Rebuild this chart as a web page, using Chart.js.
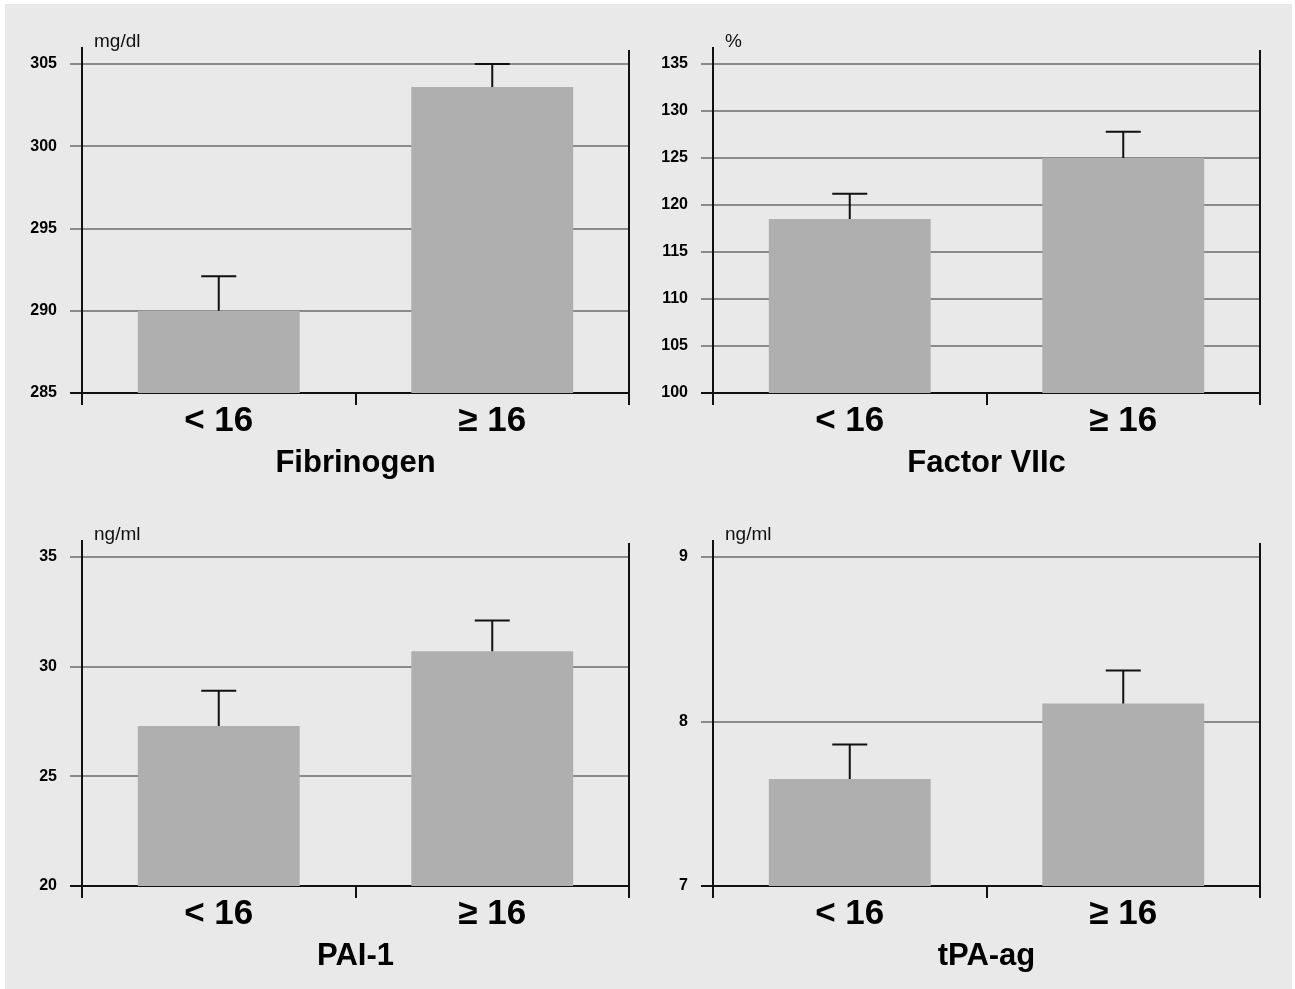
<!DOCTYPE html>
<html lang="en">
<head>
<meta charset="utf-8">
<title>Haemostatic factors by group</title>
<script src="https://cdn.jsdelivr.net/npm/chart.js"></script>
<style>
    html, body { margin: 0; padding: 0; background: #fff; }
    body { width: 1295px; height: 989px; position: relative; overflow: hidden; font-family: "Liberation Sans", Arial, sans-serif; }
    .backdrop { position: absolute; left: 5px; top: 4px; width: 1287px; height: 985px; background: #e9e9e9; }
    canvas { position: absolute; }
</style>
</head>
<body>
<div class="backdrop"></div>
<canvas id="fibChart" width="631" height="470" style="left:10px;top:20px"></canvas>
<canvas id="f7Chart" width="631" height="470" style="left:641px;top:20px"></canvas>
<canvas id="paiChart" width="631" height="470" style="left:10px;top:513px"></canvas>
<canvas id="tpaChart" width="631" height="470" style="left:641px;top:513px"></canvas>

<script>
    // groups on the x axis
    const categories = ['< 16', '\u2265 16'];

    // bar heights (means) and top of the error whisker
    const fibrinogen = [290.0, 303.6];
    const fibrinogenErr = [292.1, 305.0];
    const factor7 = [118.5, 125.0];
    const factor7Err = [121.2, 127.8];
    const pai1 = [27.3, 30.7];
    const pai1Err = [28.9, 32.1];
    const tpa = [7.65, 8.11];
    const tpaErr = [7.86, 8.31];

    // y axis ranges: [min, max, step]
    const fibrinogenAxis = [285, 305, 5];
    const factor7Axis = [100, 135, 5];
    const pai1Axis = [20, 35, 5];
    const tpaAxis = [7, 9, 1];

    const FONT = '"Liberation Sans", Arial, sans-serif';
    const INK = '#000';

    // whisker above each bar (only the upper half is shown in the original)
    const errorBars = {
        id: 'errorBars',
        afterDatasetsDraw(chart, args, opts) {
            const { ctx } = chart;
            const y = chart.scales.y;
            const meta = chart.getDatasetMeta(0);
            ctx.save();
            ctx.strokeStyle = '#111';
            ctx.lineWidth = 2;
            opts.tops.forEach((v, i) => {
                const bar = meta.data[i];
                const yTop = y.getPixelForValue(v);
                ctx.beginPath();
                ctx.moveTo(bar.x, bar.y);
                ctx.lineTo(bar.x, yTop);
                ctx.moveTo(bar.x - 17.5, yTop);
                ctx.lineTo(bar.x + 17.5, yTop);
                ctx.stroke();
            });
            ctx.restore();
        }
    };

    // frame bits: axis line running past the top, right-hand line, unit label
    const frame = {
        id: 'frame',
        afterDraw(chart, args, opts) {
            const { ctx, chartArea: a } = chart;
            ctx.save();
            ctx.strokeStyle = '#111';
            ctx.lineWidth = 2;
            ctx.beginPath();
            ctx.moveTo(a.left, a.top - 17);
            ctx.lineTo(a.left, a.top);
            ctx.moveTo(a.right, a.top - 14);
            ctx.lineTo(a.right, a.bottom);
            ctx.stroke();
            ctx.fillStyle = '#111';
            ctx.font = '19px ' + FONT;
            ctx.textAlign = 'left';
            ctx.textBaseline = 'alphabetic';
            ctx.fillText(opts.unit, a.left + 12, a.top - 17);
            ctx.restore();
        }
    };

    function makeChart(id, title, unit, values, errTops, axis) {
        const [min, max, step] = axis;
        return new Chart(document.getElementById(id), {
            type: 'bar',
            data: {
                labels: categories,
                datasets: [{
                    data: values,
                    backgroundColor: '#afafaf',
                    borderWidth: 0,
                    barPercentage: 0.592,
                    categoryPercentage: 1
                }]
            },
            plugins: [errorBars, frame],
            options: {
                responsive: false,
                animation: false,
                layout: { padding: { left: 12, top: 44, right: 12, bottom: 0 } },
                plugins: {
                    legend: { display: false },
                    tooltip: { enabled: false },
                    errorBars: { tops: errTops },
                    frame: { unit: unit }
                },
                scales: {
                    x: {
                        z: 1,
                        afterFit: (s) => { s.height = 97; },
                        grid: { display: true, drawOnChartArea: false, offset: true, tickLength: 12, color: '#111', lineWidth: 2 },
                        border: { display: true, color: '#111', width: 2 },
                        ticks: { color: INK, padding: -1, font: { family: FONT, size: 35, weight: 'bold', lineHeight: 1 } },
                        title: {
                            display: true, text: title, color: INK,
                            padding: { top: 0, bottom: 11 },
                            font: { family: FONT, size: 31, weight: 'bold', lineHeight: 1 }
                        }
                    },
                    y: {
                        min: min, max: max,
                        afterFit: (s) => { s.width = 60; },
                        grid: {
                            color: (c) => (c.tick && c.tick.value === min ? '#111' : '#8a8a8a'),
                            lineWidth: 2,
                            tickLength: 12
                        },
                        border: { display: true, color: '#111', width: 2 },
                        ticks: { stepSize: step, color: INK, padding: 13, font: { family: FONT, size: 16, weight: 'bold' } }
                    }
                }
            }
        });
    }

    makeChart('fibChart', 'Fibrinogen', 'mg/dl', fibrinogen, fibrinogenErr, fibrinogenAxis);
    makeChart('f7Chart', 'Factor VIIc', '%', factor7, factor7Err, factor7Axis);
    makeChart('paiChart', 'PAI-1', 'ng/ml', pai1, pai1Err, pai1Axis);
    makeChart('tpaChart', 'tPA-ag', 'ng/ml', tpa, tpaErr, tpaAxis);
</script>
</body>
</html>
